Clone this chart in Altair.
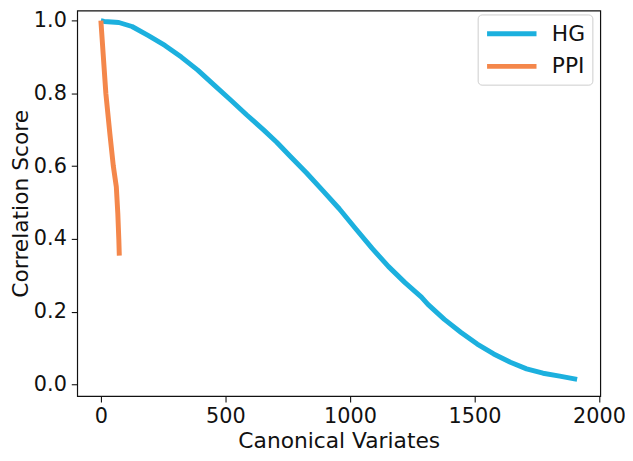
import altair as alt
import pandas as pd

# Values
hg_x = [0, 13, 72, 125, 191, 257, 323, 389, 455, 521, 587, 653, 706, 759, 825, 891,
        957, 1023, 1089, 1155, 1221, 1287, 1313, 1379, 1446, 1511, 1577, 1644, 1709,
        1775, 1842, 1912]
hg_y = [1.0, 0.998, 0.995, 0.984, 0.959, 0.932, 0.900, 0.864, 0.823, 0.782, 0.740,
        0.700, 0.666, 0.628, 0.582, 0.533, 0.483, 0.428, 0.374, 0.324, 0.280, 0.240,
        0.220, 0.179, 0.143, 0.111, 0.084, 0.061, 0.043, 0.031, 0.023, 0.014]

ppi_x = [0, 20, 36, 50, 62, 68, 72, 74]
ppi_y = [1.0, 0.80, 0.69, 0.60, 0.543, 0.47, 0.40, 0.354]

series = ["HG", "PPI"]
colors = ["#1cb0de", "#f4874b"]
x_ticks = [0, 500, 1000, 1500, 2000]
y_ticks = [0.0, 0.2, 0.4, 0.6, 0.8, 1.0]

df = pd.concat([
    pd.DataFrame({"x": hg_x, "y": hg_y, "s": "HG"}),
    pd.DataFrame({"x": ppi_x, "y": ppi_y, "s": "PPI"}),
])

FONT = "DejaVu Sans"

chart = alt.Chart(df).mark_line(strokeWidth=5, strokeJoin="round").encode(
    x=alt.X("x:Q",
            scale=alt.Scale(domain=[-95, 2005], nice=False, zero=False),
            axis=alt.Axis(values=x_ticks, title="Canonical Variates", format="d",
                          labelPadding=4, titlePadding=4)),
    y=alt.Y("y:Q",
            scale=alt.Scale(domain=[-0.032, 1.028], nice=False, zero=False),
            axis=alt.Axis(values=y_ticks, title="Correlation Score", format=".1f",
                          labelPadding=5, titlePadding=1)),
    color=alt.Color("s:N",
                    scale=alt.Scale(domain=series, range=colors),
                    legend=alt.Legend(title=None, orient="none", legendX=405, legendY=4,
                                      symbolType="M-2.5,0H2.5", symbolSize=400,
                                      symbolStrokeWidth=5, symbolOffset=15,
                                      labelOffset=28, rowPadding=9,
                                      labelFontSize=22, labelFont=FONT, labelColor="#111",
                                      padding=7, strokeColor="#cccccc", fillColor="white",
                                      cornerRadius=4)),
    detail="s:N",
).properties(
    width=529, height=390,
    autosize=alt.AutoSizeParams(type="none"),
    padding={"left": 70, "top": 0, "right": 25, "bottom": 55},
).configure_view(
    stroke="#111", strokeWidth=1.2
).configure_axis(
    grid=False, domain=False,
    tickColor="#111", tickSize=6, tickWidth=1.1,
    labelFont=FONT, labelFontSize=21, labelColor="#111",
    titleFont=FONT, titleFontSize=22, titleFontWeight="normal", titleColor="#111",
)

chart.save("out.html", embed_options={"renderer": "svg", "actions": False})
